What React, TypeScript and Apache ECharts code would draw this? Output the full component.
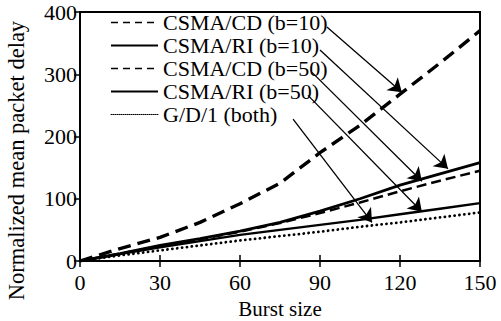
import React, { useEffect, useRef } from "react";
import * as echarts from "echarts";

const xValues = [0, 15, 30, 45, 60, 75, 90, 105, 120, 135, 150];
const cd10 = [0, 20, 38, 62, 92, 125, 174, 218, 268, 318, 370];
const ri10 = [0, 12, 25, 36, 48, 62, 80, 100, 122, 140, 158];
const cd50 = [0, 12, 24, 35, 47, 61, 77, 94, 112, 129, 145];
const ri50 = [0, 11, 22, 32, 42, 50, 58, 66, 75, 84, 93];
const gd1 = [0, 9, 17, 25, 33, 40, 47, 55, 62, 70, 78];

const seriesNames = [
  "CSMA/CD (b=10)",
  "CSMA/RI (b=10)",
  "CSMA/CD (b=50)",
  "CSMA/RI (b=50)",
  "G/D/1 (both)",
];

// annotation arrows (data space): [startX, startY, endX, endY]
const arrowCD10 = [92.6, 376, 120.7, 271];
const arrowRI10 = [90.0, 339, 138.0, 148];
const arrowCD50 = [87.0, 303, 128.2, 128];
const arrowRI50 = [85.5, 266, 128.2, 79];
const arrowGD1 = [79.9, 228, 109.5, 62];

const FONT = "Liberation Serif";

function pairs(ys: number[]) {
  return xValues.map((x, i) => [x, ys[i]]);
}

function arrow(a: number[]) {
  return {
    silent: true,
    symbol: ["none", "arrow"],
    symbolSize: 13,
    label: { show: false },
    lineStyle: { color: "#000", width: 1.3, type: "solid" },
    itemStyle: { color: "#000" },
    emphasis: { disabled: true },
    data: [[{ coord: [a[0], a[1]] }, { coord: [a[2], a[3]] }]],
  };
}

export default function App() {
  const ref = useRef<HTMLDivElement>(null);
  useEffect(() => {
    if (!ref.current) return;
    const chart = echarts.init(ref.current, null, { renderer: "svg" });
    const styles = [
      { width: 3.4, type: [13, 7] },
      { width: 2.8, type: "solid" },
      { width: 2.5, type: [10, 5] },
      { width: 2.4, type: "solid" },
      { width: 2.8, type: [0.1, 4.8], cap: "round" },
    ];
    const legendStyles = [
      { width: 1.6, type: [7, 5] },
      { width: 2, type: "solid" },
      { width: 1.6, type: [7, 5] },
      { width: 2, type: "solid" },
      { width: 1, type: [1, 1] },
    ];
    const dataSets = [cd10, ri10, cd50, ri50, gd1];
    const arrows = [arrowCD10, arrowRI10, arrowCD50, arrowRI50, arrowGD1];
    chart.setOption({
      animation: false,
      textStyle: { fontFamily: FONT, color: "#000" },
      grid: {
        left: 80,
        right: 21,
        top: 12,
        bottom: 60,
        containLabel: false,
        outerBoundsMode: "none",
        show: true,
        borderColor: "#000",
        borderWidth: 2,
      },
      legend: {
        orient: "vertical",
        left: 105,
        top: 6,
        itemWidth: 47,
        itemHeight: 14,
        itemGap: 0,
        itemStyle: { color: "rgba(0,0,0,0)", borderWidth: 0, opacity: 0 },
        textStyle: { fontFamily: FONT, fontSize: 22, color: "#000", lineHeight: 23 },
        data: seriesNames.map((n, i) => ({
          name: n,
          itemStyle: { color: "rgba(0,0,0,0)", borderWidth: 0, opacity: 0 },
          lineStyle: { color: "#000", ...legendStyles[i] },
        })),
      },
      xAxis: [
        {
          type: "value",
          min: 0,
          max: 150,
          interval: 30,
          name: "Burst size",
          nameLocation: "middle",
          nameGap: 37,
          nameTextStyle: { fontFamily: FONT, fontSize: 21, color: "#000" },
          axisLine: { lineStyle: { color: "#000", width: 2 } },
          axisTick: { show: true, length: 6, lineStyle: { color: "#000", width: 1.5 } },
          axisLabel: { fontFamily: FONT, fontSize: 22, color: "#000", margin: 10 },
          splitLine: { show: false },
        },
        {
          type: "value",
          min: 0,
          max: 150,
          interval: 30,
          position: "bottom",
          axisLine: { show: false },
          axisTick: { show: true, inside: true, length: 6, lineStyle: { color: "#000", width: 1.5 } },
          axisLabel: { show: false },
          splitLine: { show: false },
        },
      ],
      yAxis: {
        type: "value",
        min: 0,
        max: 400,
        interval: 100,
        name: "Normalized mean packet delay",
        nameLocation: "middle",
        nameGap: 52,
        nameTextStyle: { fontFamily: FONT, fontSize: 22.5, color: "#000", padding: [0, 48, 0, 0] },
        axisLine: { show: true, lineStyle: { color: "#000", width: 2 } },
        axisTick: { show: true, length: 6, lineStyle: { color: "#000", width: 1.5 } },
        axisLabel: { fontFamily: FONT, fontSize: 22, color: "#000", margin: 3 },
        splitLine: { show: false },
      },
      series: seriesNames.map((n, i) => ({
        name: n,
        type: "line",
        xAxisIndex: 0,
        data: pairs(dataSets[i]),
        symbol: "none",
        showSymbol: false,
        lineStyle: { color: "#000", ...styles[i] },
        itemStyle: { color: "#000" },
        emphasis: { disabled: true },
        markLine: arrow(arrows[i]),
        z: 3,
      })),
    });
    return () => chart.dispose();
  }, []);
  return <div ref={ref} style={{ width: 501, height: 321, position: "absolute", left: 0, top: 0 }} />;
}
